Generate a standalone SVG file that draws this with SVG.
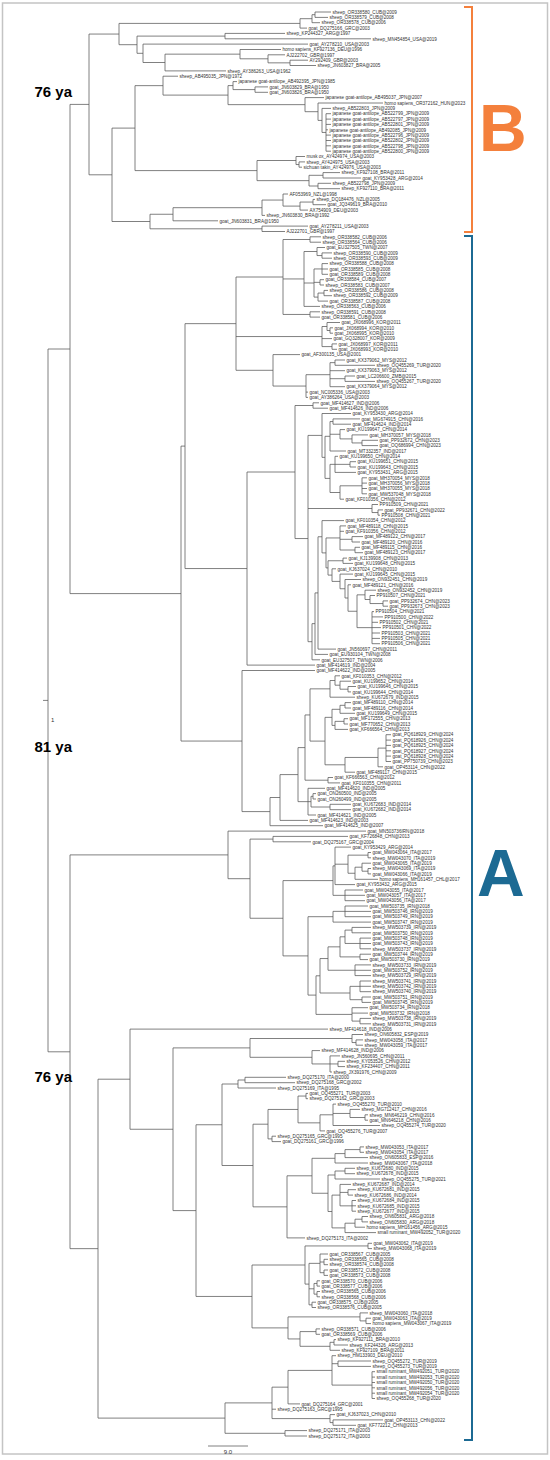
<svg xmlns="http://www.w3.org/2000/svg" width="550" height="1460" viewBox="0 0 550 1460">
<style>
.c{fill:none;stroke:#555;stroke-width:0.75}
.t text{font-family:"Liberation Sans",Arial,sans-serif;font-size:4.6px;fill:#333}
.yr{font-family:"Liberation Sans",Arial,sans-serif;font-size:15px;font-weight:bold;fill:#000;text-anchor:end}
.pp{font-family:"Liberation Sans",Arial,sans-serif;font-size:6px;fill:#333}
.big{font-family:"Liberation Sans",Arial,sans-serif;font-size:66px;font-weight:bold}
</style>
<rect x="0" y="0" width="550" height="1460" fill="#fff"/>
<rect x="2.5" y="3" width="545" height="1451" fill="none" stroke="#c4c4c4" stroke-width="1.5"/>
<g id="connectors" class="c">
<path d="M315 12V17.4M315 12H331M315 17.4H328M312 14.7V22.7M312 14.7H315M312 22.7H320M300 18.7V28.1M300 18.7H312M300 28.1H307M225 33.4V38.8M225 33.4H285M225 38.8H371M290 60.2V65.5M290 60.2H308M290 65.5H316M268 54.8V62.85M268 54.8H285M268 62.85H290M240 49.5V58.8M240 49.5H281M240 58.8H268M165 54.15V70.9M165 54.15H240M165 70.9H226M143 44.1V62.5M143 44.1H308M143 62.5H165M137 36.1V53.3M137 36.1H225M137 53.3H143M119 23.4V44.7M119 23.4H300M119 44.7H137"/>
<path d="M255 86.9V92.3M255 86.9H268M255 92.3H268M233 81.6V89.6M233 81.6H237M233 89.6H255M326 113.7V151.2M326 113.7H331M326 119.1H331M326 124.4H331M326 129.8H328M326 135.1H331M326 140.5H331M326 145.8H331M326 151.2H331M322 108.4V132.45M322 108.4H331M322 132.45H326M318 103V120.4M318 103H383M318 120.4H322M305 97.6V111.7M305 97.6H324M305 111.7H318M228 85.6V104.65M228 85.6H233M228 104.65H305M163 76.2V95.1M163 76.2H178M163 95.1H228M299 161.9V167.2M299 161.9H305M299 167.2H302M296 156.5V164.55M296 156.5H305M296 164.55H299M323 172.6V178M323 172.6H340M323 178H361M318 183.3V188.7M318 183.3H331M318 188.7H340M309 175.3V186M309 175.3H323M309 186H318M257 160.5V180.65M257 160.5H296M257 180.65H309M135 85.65V170.6M135 85.65H163M135 170.6H257"/>
<path d="M313 199.4V204.7M313 199.4H315M313 204.7H326M300 202.05V210.1M300 202.05H313M300 210.1H308M283 194V206.1M283 194H288M283 206.1H300M262 200.05V215.4M262 200.05H283M262 215.4H265M173 207.7V220.8M173 207.7H262M173 220.8H218M262 226.1V231.5M262 226.1H308M262 231.5H285M150 214.25V228.8M150 214.25H173M150 228.8H262M112 128.1V221.5M112 128.1H135M112 221.5H150M89 34.05V174.8M89 34.05H119M89 174.8H112"/>
<path d="M310 236.8V242.2M310 236.8H321M310 242.2H321M322 252.9V258.2M322 252.9H332M322 258.2H332M317 247.5V255.55M317 247.5H325M317 255.55H322M322 263.6V274.3M322 263.6H328M322 269H328M322 274.3H328M320 279.7V285M320 279.7H324M320 285H324M324 290.4V295.7M324 290.4H328M324 295.7H332M318 293.05V301.1M318 293.05H324M318 301.1H328M314 268.95V297.1M314 268.95H322M314 282.35H320M314 297.1H318M304 251.5V306.4M304 251.5H317M304 283H314M304 306.4H320M310 311.8V317.1M310 311.8H320M310 317.1H320M283 239.5V314.45M283 239.5H310M283 278.95H304M283 314.45H310M330 327.8V333.2M330 327.8H333M330 333.2H333M327 322.5V330.5M327 322.5H340M327 330.5H330M332 343.9V349.3M332 343.9H337M332 349.3H337M322 326.5V346.6M322 326.5H327M322 338.6H332M322 346.6H332M335 360V365.3M335 360H345M335 365.3H375M345 376V381.4M345 376H355M345 381.4H375M330 362.65V386.7M330 362.65H335M330 370.7H345M330 378.7H345M330 386.7H345M306 374.7V397.4M306 374.7H330M306 392.1H308M306 397.4H308M273 354.6V386.05M273 354.6H300M273 386.05H306M236 277V370.3M236 277H283M236 336.55H322M236 370.3H273"/>
<path d="M313 402.8V408.2M313 402.8H319M313 408.2H328M333 418.9V424.2M333 418.9H360M333 424.2H351M362 440.3V445.6M362 440.3H378M362 445.6H378M352 434.9V442.95M352 434.9H368M352 442.95H362M340 429.6V438.9M340 429.6H345M340 438.9H352M330 421.55V451M330 421.55H333M330 434.25H340M330 451H346M350 461.7V467M350 461.7H356M350 467H356M335 456.3V472.4M335 456.3H338M335 464.35H350M335 472.4H356M362 477.8V493.8M362 477.8H367M362 483.1H367M362 488.5H367M362 493.8H367M340 485.8V499.2M340 485.8H362M340 499.2H344M330 464.35V492.5M330 464.35H335M330 492.5H340M325 436.3V478.4M325 436.3H330M325 478.4H330M322 413.5V457.35M322 413.5H351M322 457.35H325M378 509.9V515.2M378 509.9H383M378 515.2H380M372 504.5V512.55M372 504.5H378M372 512.55H378"/>
<path d="M352 536.6V542M352 536.6H363M352 542H360M355 547.3V552.7M355 547.3H360M355 552.7H363M340 525.9V550M340 525.9H346M340 531.3H344M340 539.3H352M340 550H355M372 611.6V643.7M372 611.6H374M372 616.9H383M372 622.3H378M372 627.6H381M372 633H380M372 638.4H380M372 643.7H380M383 600.9V606.2M383 600.9H388M383 606.2H388M370 595.5V603.55M370 595.5H375M370 603.55H383M365 590.2V599.5M365 590.2H376M365 599.5H370M357 594.85V627.65M357 594.85H365M357 627.65H372M348 584.8V611.25M348 584.8H351M348 611.25H357M345 579.5V598M345 579.5H361M345 598H348M340 574.1V588.75M340 574.1H353M340 588.75H345M332 568.8V581.4M332 568.8H336M332 581.4H340M343 558.1V563.4M343 558.1H347M343 563.4H353M328 560.75V575.1M328 560.75H343M328 575.1H332M326 537.95V567.9M326 537.95H340M326 567.9H328M322 520.6V552.9M322 520.6H344M322 552.9H326M318 536.75V649.1M318 536.75H322M318 649.1H336M315 592.9V654.4M315 592.9H318M315 654.4H328M312 623.65V659.8M312 623.65H315M312 659.8H320M308 435.4V641.7M308 435.4H322M308 508.5H372M308 641.7H312M295 405.5V538.55M295 405.5H313M295 538.55H308M247 472V665.1M247 472H295M247 665.1H315M185 323.65V568.55M185 323.65H236M185 568.55H247"/>
<path d="M348 686.5V691.9M348 686.5H356M348 691.9H351M340 681.2V689.2M340 681.2H351M340 689.2H348M335 675.8V685.2M335 675.8H340M335 685.2H340M330 680.5V697.2M330 680.5H335M330 697.2H355M345 702.6V708M345 702.6H351M345 708H351M340 705.3V713.3M340 705.3H345M340 713.3H355M344 718.7V724M344 718.7H348M344 724H348M335 721.35V729.4M335 721.35H344M335 729.4H348M332 709.3V725.4M332 709.3H340M332 725.4H335M386 734.7V761.5M386 734.7H391M386 740.1H391M386 745.4H391M386 750.8H391M386 756.1H391M386 761.5H391M378 748.1V766.8M378 748.1H386M378 766.8H383M345 757.45V772.2M345 757.45H378M345 772.2H355M325 717.35V764.8M325 717.35H332M325 764.8H345M310 688.85V741.1M310 688.85H330M310 741.1H325M328 777.5V782.9M328 777.5H333M328 782.9H340M305 714.95V780.2M305 714.95H310M305 780.2H328M313 793.6V799M313 793.6H316M313 799H316M330 804.3V809.7M330 804.3H351M330 809.7H351M311 796.3V807M311 796.3H313M311 807H330M308 788.3V815M308 788.3H325M308 801.65H311M308 815H316M298 747.6V801.65M298 747.6H305M298 801.65H308M280 774.6V820.4M280 774.6H298M280 820.4H308M270 797.5V825.7M270 797.5H280M270 825.7H323M242 670.5V811.6M242 670.5H315M242 811.6H270M181 446.1V741.05M181 446.1H185M181 741.05H242"/>
<path d="M273 836.4V841.8M273 836.4H348M273 841.8H311M368 852.5V857.8M368 852.5H371M368 857.8H371M368 868.5V873.9M368 868.5H371M368 873.9H371M362 863.2V871.2M362 863.2H371M362 871.2H368M355 867.2V879.3M355 867.2H362M355 879.3H378M348 855.15V873.25M348 855.15H368M348 873.25H355M335 847.1V884.6M335 847.1H351M335 864.2H348M335 884.6H355M345 890V900.7M345 890H363M345 895.3H365M345 900.7H365M333 865.85V895.35M333 865.85H335M333 895.35H345M345 906V916.7M345 906H368M345 911.4H371M345 916.7H371M333 911.35V922.1M333 911.35H345M333 922.1H371M352 927.4V932.8M352 927.4H371M352 932.8H371M360 938.1V948.8M360 938.1H371M360 943.5H371M360 948.8H371M345 930.1V943.45M345 930.1H352M345 943.45H360M360 954.2V959.6M360 954.2H371M360 959.6H368M340 936.8V956.9M340 936.8H345M340 956.9H360M355 964.9V975.6M355 964.9H371M355 970.3H371M355 975.6H371M328 946.85V970.25M328 946.85H340M328 970.25H355M360 981V991.7M360 981H371M360 986.3H371M360 991.7H371M362 997V1002.4M362 997H371M362 1002.4H371M350 986.35V999.7M350 986.35H360M350 999.7H362M320 958.55V993M320 958.55H328M320 993H350M360 1018.4V1023.8M360 1018.4H371M360 1023.8H371M352 1007.7V1021.1M352 1007.7H368M352 1013.1H368M352 1021.1H360M316 975.8V1014.4M316 975.8H320M316 1014.4H352M308 916.7V995.1M308 916.7H333M308 995.1H316M283 880.6V955.9M283 880.6H333M283 955.9H308M250 839.1V918.25M250 839.1H273M250 918.25H283M228 831.1V878.7M228 831.1H366M228 878.7H250"/>
<path d="M356 1039.9V1045.2M356 1039.9H363M356 1045.2H363M352 1034.5V1042.55M352 1034.5H363M352 1042.55H356M338 1061.3V1066.6M338 1061.3H345M338 1066.6H345M330 1055.9V1072M330 1055.9H340M330 1063.95H338M330 1072H332M312 1050.6V1063.95M312 1050.6H320M312 1063.95H330M250 1038.5V1057.3M250 1038.5H352M250 1057.3H312M245 1077.3V1082.7M245 1077.3H286M245 1082.7H295M238 1080V1088M238 1080H245M238 1088H276M306 1093.4V1098.7M306 1093.4H308M306 1098.7H308M365 1114.8V1120.2M365 1114.8H368M365 1120.2H368M350 1109.4V1117.5M350 1109.4H360M350 1117.5H365M333 1104.1V1125.5M333 1104.1H336M333 1113.45H350M333 1125.5H380M320 1114.8V1130.9M320 1114.8H333M320 1130.9H325M298 1096.05V1122.85M298 1096.05H306M298 1122.85H320M272 1136.2V1141.6M272 1136.2H276M272 1141.6H281M268 1109.45V1138.9M268 1109.45H298M268 1138.9H272"/>
<path d="M360 1146.9V1152.3M360 1146.9H364M360 1152.3H364M345 1149.6V1157.6M345 1149.6H360M345 1157.6H368M335 1153.6V1163M335 1153.6H345M335 1163H368M345 1168.3V1173.7M345 1168.3H355M345 1173.7H355M335 1171V1179M335 1171H345M335 1179H380M348 1189.7V1195.1M348 1189.7H356M348 1195.1H353M352 1200.5V1211.2M352 1200.5H356M352 1205.8H356M352 1211.2H356M340 1184.4V1205.85M340 1184.4H351M340 1192.4H348M340 1205.85H352M362 1216.5V1221.9M362 1216.5H368M362 1221.9H368M355 1219.2V1227.2M355 1219.2H362M355 1227.2H365M345 1223.2V1232.6M345 1223.2H355M345 1232.6H376M332 1195.1V1227.9M332 1195.1H340M332 1227.9H345M328 1175V1211.5M328 1175H335M328 1211.5H332M312 1158.3V1193.25M312 1158.3H335M312 1193.25H328M287 1175.8V1237.9M287 1175.8H312M287 1237.9H305M253 1124.2V1206.85M253 1124.2H268M253 1206.85H287M222 1084V1165.5M222 1084H238M222 1165.5H253"/>
<path d="M368 1243.3V1248.6M368 1243.3H372M368 1248.6H372M324 1259.3V1264.7M324 1259.3H328M324 1264.7H328M324 1270V1275.4M324 1270H328M324 1275.4H328M320 1254V1272.7M320 1254H328M320 1262H324M320 1272.7H324M317 1280.8V1286.1M317 1280.8H320M317 1286.1H320M317 1291.5V1296.8M317 1291.5H320M317 1296.8H320M314 1283.45V1294.15M314 1283.45H317M314 1294.15H317M312 1302.2V1307.5M312 1302.2H316M312 1307.5H316M309 1263.35V1304.85M309 1263.35H320M309 1288.8H314M309 1304.85H312M305 1245.95V1284.1M305 1245.95H368M305 1284.1H309M366 1318.2V1323.6M366 1318.2H371M366 1323.6H371M360 1312.9V1320.9M360 1312.9H368M360 1320.9H366M316 1328.9V1334.3M316 1328.9H320M316 1334.3H320M334 1339.6V1345M334 1339.6H336M334 1345H348M330 1342.3V1350.3M330 1342.3H334M330 1350.3H340M300 1331.6V1346.3M300 1331.6H316M300 1346.3H330M288 1316.9V1338.95M288 1316.9H360M288 1338.95H300M252 1265V1327.9M252 1265H305M252 1327.9H288M196 1124.75V1296.45M196 1124.75H222M196 1296.45H252M173 1047.9V1210.6M173 1047.9H250M173 1210.6H196"/>
<path d="M338 1361V1366.4M338 1361H371M338 1366.4H371M372 1371.7V1398.5M372 1371.7H375M372 1377.1H375M372 1382.5H375M372 1387.8H375M372 1393.2H375M372 1398.5H375M332 1355.7V1385.1M332 1355.7H336M332 1363.7H338M332 1385.1H372M288 1370.4V1403.9M288 1370.4H332M288 1403.9H300M333 1419.9V1425.3M333 1419.9H383M333 1425.3H356M330 1414.6V1422.6M330 1414.6H335M330 1422.6H333M272 1387.15V1418.6M272 1387.15H288M272 1409.2H276M272 1418.6H330M285 1430.6V1436M285 1430.6H307M285 1436H307M225 1402.9V1433.3M225 1402.9H272M225 1433.3H285"/>
<path d="M130 1029.1V1129.25M130 1029.1H328M130 1129.25H173M98 1079.2V1418.1M98 1079.2H130M98 1418.1H225M70 854.9V1248.65M70 854.9H228M70 1248.65H98M70 104.4V593.6M70 104.4H89M70 593.6H181M48 349V1051.8M48 349H70M48 1051.8H70M43 700.4H48"/>
</g>
<g id="scale-bar">
<path class="c" d="M208 1446H248"/>
<text class="pp" x="228" y="1453.5" text-anchor="middle" font-size="5">9.0</text>
</g>
<g id="annotations">
<text class="yr" x="72" y="97">76 ya</text>
<text class="yr" x="72" y="752">81 ya</text>
<text class="yr" x="72" y="1082">76 ya</text>
<text class="pp" x="51" y="722">1</text>
</g>
<g id="clade-B">
<path d="M464 7H472V232H464" fill="none" stroke="#F4803C" stroke-width="2"/>
<text class="big" x="479" y="151" fill="#F4803C">B</text>
</g>
<g id="clade-A">
<path d="M464 236H472V1440H464" fill="none" stroke="#1C6A93" stroke-width="2"/>
<text class="big" x="477" y="896" fill="#1C6A93">A</text>
</g>
<g id="leaves" class="t">
<g id="leaf-0"><text x="332.5" y="13.7">sheep_OR338580_CUB@2009</text></g>
<g id="leaf-1"><text x="329.5" y="19.1">sheep_OR338579_CUB@2008</text></g>
<g id="leaf-2"><text x="321.5" y="24.4">sheep_OR338578_CUB@2006</text></g>
<g id="leaf-3"><text x="308.5" y="29.8">goat_DQ275166_GRC@2003</text></g>
<g id="leaf-4"><text x="286.5" y="35.1">sheep_KP244327_ARG@1997</text></g>
<g id="leaf-5"><text x="372.5" y="40.5">sheep_MN454854_USA@2019</text></g>
<g id="leaf-6"><text x="309.5" y="45.8">goat_AY278210_USA@2003</text></g>
<g id="leaf-7"><text x="282.5" y="51.2">homo sapiens_KF927136_DEU@1996</text></g>
<g id="leaf-8"><text x="286.5" y="56.5">AJ222702_GBR@1997</text></g>
<g id="leaf-9"><text x="309.5" y="61.9">AY292409_GBR@2003</text></g>
<g id="leaf-10"><text x="317.5" y="67.2">sheep_JN603827_BRA@2005</text></g>
<g id="leaf-11"><text x="227.5" y="72.6">sheep_AY386263_USA@1962</text></g>
<g id="leaf-12"><text x="179.5" y="77.9">sheep_AB495035_JPN@1972</text></g>
<g id="leaf-13"><text x="238.5" y="83.3">japanese goat-antilope_AB492395_JPN@1985</text></g>
<g id="leaf-14"><text x="269.5" y="88.6">goat_JN603829_BRA@1950</text></g>
<g id="leaf-15"><text x="269.5" y="94">goat_JN603826_BRA@1950</text></g>
<g id="leaf-16"><text x="325.5" y="99.3">japanese goat-antilope_AB495037_JPN@2007</text></g>
<g id="leaf-17"><text x="384.5" y="104.7">homo sapiens_OR372162_HUN@2023</text></g>
<g id="leaf-18"><text x="332.5" y="110.1">sheep_AB522803_JPN@2009</text></g>
<g id="leaf-19"><text x="332.5" y="115.4">japanese goat-antilope_AB522799_JPN@2009</text></g>
<g id="leaf-20"><text x="332.5" y="120.8">japanese goat-antilope_AB522797_JPN@2009</text></g>
<g id="leaf-21"><text x="332.5" y="126.1">japanese goat-antilope_AB522801_JPN@2009</text></g>
<g id="leaf-22"><text x="329.5" y="131.5">japanese goat-antilope_AB492085_JPN@2009</text></g>
<g id="leaf-23"><text x="332.5" y="136.8">japanese goat-antilope_AB522796_JPN@2009</text></g>
<g id="leaf-24"><text x="332.5" y="142.2">japanese goat-antilope_AB522802_JPN@2009</text></g>
<g id="leaf-25"><text x="332.5" y="147.5">japanese goat-antilope_AB522798_JPN@2009</text></g>
<g id="leaf-26"><text x="332.5" y="152.9">japanese goat-antilope_AB522800_JPN@2009</text></g>
<g id="leaf-27"><text x="306.5" y="158.2">musk ox_AY424974_USA@2003</text></g>
<g id="leaf-28"><text x="306.5" y="163.6">sheep_AY424975_USA@2003</text></g>
<g id="leaf-29"><text x="303.5" y="168.9">sichuan takin_AY424976_USA@2003</text></g>
<g id="leaf-30"><text x="341.5" y="174.3">sheep_KF927108_BRA@2011</text></g>
<g id="leaf-31"><text x="362.5" y="179.7">goat_KY953428_ARG@2014</text></g>
<g id="leaf-32"><text x="332.5" y="185">sheep_AB522798_JPN@2009</text></g>
<g id="leaf-33"><text x="341.5" y="190.4">sheep_KF927110_BRA@2011</text></g>
<g id="leaf-34"><text x="289.5" y="195.7">AF053969_NZL@1998</text></g>
<g id="leaf-35"><text x="316.5" y="201.1">sheep_DQ184476_NZL@2005</text></g>
<g id="leaf-36"><text x="327.5" y="206.4">goat_JQ349619_BRA@2010</text></g>
<g id="leaf-37"><text x="309.5" y="211.8">AX754909_DEU@2003</text></g>
<g id="leaf-38"><text x="266.5" y="217.1">sheep_JN603830_BRA@1992</text></g>
<g id="leaf-39"><text x="219.5" y="222.5">goat_JN603831_BRA@1950</text></g>
<g id="leaf-40"><text x="309.5" y="227.8">goat_AY278211_USA@2003</text></g>
<g id="leaf-41"><text x="286.5" y="233.2">AJ222701_GBR@1997</text></g>
<g id="leaf-42"><text x="322.5" y="238.5">sheep_OR338582_CUB@2006</text></g>
<g id="leaf-43"><text x="322.5" y="243.9">sheep_OR338564_CUB@2006</text></g>
<g id="leaf-44"><text x="326.5" y="249.2">goat_EU327505_TWN@2007</text></g>
<g id="leaf-45"><text x="333.5" y="254.6">sheep_OR338590_CUB@2009</text></g>
<g id="leaf-46"><text x="333.5" y="259.9">sheep_OR338593_CUB@2009</text></g>
<g id="leaf-47"><text x="329.5" y="265.3">sheep_OR338588_CUB@2008</text></g>
<g id="leaf-48"><text x="329.5" y="270.7">goat_OR338585_CUB@2008</text></g>
<g id="leaf-49"><text x="329.5" y="276">goat_OR338589_CUB@2008</text></g>
<g id="leaf-50"><text x="325.5" y="281.4">goat_OR338584_CUB@2007</text></g>
<g id="leaf-51"><text x="325.5" y="286.7">sheep_OR338583_CUB@2007</text></g>
<g id="leaf-52"><text x="329.5" y="292.1">sheep_OR338586_CUB@2008</text></g>
<g id="leaf-53"><text x="333.5" y="297.4">sheep_OR338592_CUB@2009</text></g>
<g id="leaf-54"><text x="329.5" y="302.8">goat_OR338587_CUB@2008</text></g>
<g id="leaf-55"><text x="321.5" y="308.1">sheep_OR338563_CUB@2006</text></g>
<g id="leaf-56"><text x="321.5" y="313.5">sheep_OR338591_CUB@2008</text></g>
<g id="leaf-57"><text x="321.5" y="318.8">goat_OR338581_CUB@2006</text></g>
<g id="leaf-58"><text x="341.5" y="324.2">goat_JX068996_KOR@2011</text></g>
<g id="leaf-59"><text x="334.5" y="329.5">goat_JX068994_KOR@2010</text></g>
<g id="leaf-60"><text x="334.5" y="334.9">goat_JX068995_KOR@2010</text></g>
<g id="leaf-61"><text x="333.5" y="340.3">goat_GQ328007_KOR@2009</text></g>
<g id="leaf-62"><text x="338.5" y="345.6">goat_JX068997_KOR@2011</text></g>
<g id="leaf-63"><text x="338.5" y="351">goat_JX068993_KOR@2010</text></g>
<g id="leaf-64"><text x="301.5" y="356.3">goat_AF300135_USA@2001</text></g>
<g id="leaf-65"><text x="346.5" y="361.7">goat_KX379062_MYS@2012</text></g>
<g id="leaf-66"><text x="376.5" y="367">sheep_OQ455269_TUR@2020</text></g>
<g id="leaf-67"><text x="346.5" y="372.4">goat_KX379063_MYS@2012</text></g>
<g id="leaf-68"><text x="356.5" y="377.7">goat_LC206600_ZMB@2015</text></g>
<g id="leaf-69"><text x="376.5" y="383.1">sheep_OQ455267_TUR@2020</text></g>
<g id="leaf-70"><text x="346.5" y="388.4">goat_KX379064_MYS@2012</text></g>
<g id="leaf-71"><text x="309.5" y="393.8">goat_NC005336_USA@2003</text></g>
<g id="leaf-72"><text x="309.5" y="399.1">goat_AY386264_USA@2003</text></g>
<g id="leaf-73"><text x="320.5" y="404.5">goat_MF414627_IND@2006</text></g>
<g id="leaf-74"><text x="329.5" y="409.9">goat_MF414626_IND@2006</text></g>
<g id="leaf-75"><text x="352.5" y="415.2">goat_KY953430_ARG@2014</text></g>
<g id="leaf-76"><text x="361.5" y="420.6">goat_MG674915_CHN@2016</text></g>
<g id="leaf-77"><text x="352.5" y="425.9">goat_MF414624_IND@2014</text></g>
<g id="leaf-78"><text x="346.5" y="431.3">goat_KU199647_CHN@2014</text></g>
<g id="leaf-79"><text x="369.5" y="436.6">goat_MH370057_MYS@2018</text></g>
<g id="leaf-80"><text x="379.5" y="442">goat_PP932672_CHN@2023</text></g>
<g id="leaf-81"><text x="379.5" y="447.3">goat_OQ686994_CHN@2023</text></g>
<g id="leaf-82"><text x="347.5" y="452.7">goat_MT332357_IND@2017</text></g>
<g id="leaf-83"><text x="339.5" y="458">goat_KU199650_CHN@2014</text></g>
<g id="leaf-84"><text x="357.5" y="463.4">goat_KU199651_CHN@2015</text></g>
<g id="leaf-85"><text x="357.5" y="468.7">goat_KU199643_CHN@2015</text></g>
<g id="leaf-86"><text x="357.5" y="474.1">goat_KY953431_ARG@2015</text></g>
<g id="leaf-87"><text x="368.5" y="479.5">goat_MH370054_MYS@2018</text></g>
<g id="leaf-88"><text x="368.5" y="484.8">goat_MH370056_MYS@2018</text></g>
<g id="leaf-89"><text x="368.5" y="490.2">goat_MH370055_MYS@2018</text></g>
<g id="leaf-90"><text x="368.5" y="495.5">goat_MW537048_MYS@2018</text></g>
<g id="leaf-91"><text x="345.5" y="500.9">goat_KF010356_CHN@2012</text></g>
<g id="leaf-92"><text x="379.5" y="506.2">PP910509_CHN@2021</text></g>
<g id="leaf-93"><text x="384.5" y="511.6">goat_PP932671_CHN@2022</text></g>
<g id="leaf-94"><text x="381.5" y="516.9">PP910508_CHN@2021</text></g>
<g id="leaf-95"><text x="345.5" y="522.3">goat_KF010354_CHN@2012</text></g>
<g id="leaf-96"><text x="347.5" y="527.6">goat_MF489118_CHN@2015</text></g>
<g id="leaf-97"><text x="345.5" y="533">goat_KF910356_CHN@2012</text></g>
<g id="leaf-98"><text x="364.5" y="538.3">goat_MF489122_CHN@2017</text></g>
<g id="leaf-99"><text x="361.5" y="543.7">goat_MF489120_CHN@2016</text></g>
<g id="leaf-100"><text x="361.5" y="549">goat_MF489115_CHN@2016</text></g>
<g id="leaf-101"><text x="364.5" y="554.4">goat_MF489123_CHN@2017</text></g>
<g id="leaf-102"><text x="348.5" y="559.8">goat_KJ139908_CHN@2013</text></g>
<g id="leaf-103"><text x="354.5" y="565.1">goat_KU199648_CHN@2015</text></g>
<g id="leaf-104"><text x="337.5" y="570.5">goat_KJ637024_CHN@2010</text></g>
<g id="leaf-105"><text x="354.5" y="575.8">goat_KU199645_CHN@2015</text></g>
<g id="leaf-106"><text x="362.5" y="581.2">sheep_ON932451_CHN@2019</text></g>
<g id="leaf-107"><text x="352.5" y="586.5">goat_MF489121_CHN@2016</text></g>
<g id="leaf-108"><text x="377.5" y="591.9">sheep_ON932452_CHN@2019</text></g>
<g id="leaf-109"><text x="376.5" y="597.2">PP910507_CHN@2021</text></g>
<g id="leaf-110"><text x="389.5" y="602.6">goat_PP932674_CHN@2023</text></g>
<g id="leaf-111"><text x="389.5" y="607.9">goat_PP932673_CHN@2023</text></g>
<g id="leaf-112"><text x="375.5" y="613.3">PP910504_CHN@2021</text></g>
<g id="leaf-113"><text x="384.5" y="618.6">PP910500_CHN@2022</text></g>
<g id="leaf-114"><text x="379.5" y="624">PP910502_CHN@2021</text></g>
<g id="leaf-115"><text x="382.5" y="629.3">PP910501_CHN@2022</text></g>
<g id="leaf-116"><text x="381.5" y="634.7">PP910503_CHN@2021</text></g>
<g id="leaf-117"><text x="381.5" y="640.1">PP910505_CHN@2021</text></g>
<g id="leaf-118"><text x="381.5" y="645.4">PP910506_CHN@2021</text></g>
<g id="leaf-119"><text x="337.5" y="650.8">goat_JN560697_CHN@2011</text></g>
<g id="leaf-120"><text x="329.5" y="656.1">goat_EU930104_TWN@2008</text></g>
<g id="leaf-121"><text x="321.5" y="661.5">goat_EU327507_TWN@2006</text></g>
<g id="leaf-122"><text x="316.5" y="666.8">goat_MF414619_IND@2004</text></g>
<g id="leaf-123"><text x="316.5" y="672.2">goat_MF414622_IND@2005</text></g>
<g id="leaf-124"><text x="341.5" y="677.5">goat_KF010353_CHN@2012</text></g>
<g id="leaf-125"><text x="352.5" y="682.9">goat_KU199652_CHN@2014</text></g>
<g id="leaf-126"><text x="357.5" y="688.2">goat_KU199646_CHN@2015</text></g>
<g id="leaf-127"><text x="352.5" y="693.6">goat_KU199644_CHN@2014</text></g>
<g id="leaf-128"><text x="356.5" y="698.9">sheep_KU672679_IND@2015</text></g>
<g id="leaf-129"><text x="352.5" y="704.3">goat_MF489110_CHN@2014</text></g>
<g id="leaf-130"><text x="352.5" y="709.7">goat_MF489116_CHN@2014</text></g>
<g id="leaf-131"><text x="356.5" y="715">goat_KU199649_CHN@2015</text></g>
<g id="leaf-132"><text x="349.5" y="720.4">goat_MF172555_CHN@2013</text></g>
<g id="leaf-133"><text x="349.5" y="725.7">goat_MF770652_CHN@2013</text></g>
<g id="leaf-134"><text x="349.5" y="731.1">goat_KF666564_CHN@2013</text></g>
<g id="leaf-135"><text x="392.5" y="736.4">goat_PQ618929_CHN@2024</text></g>
<g id="leaf-136"><text x="392.5" y="741.8">goat_PQ618926_CHN@2024</text></g>
<g id="leaf-137"><text x="392.5" y="747.1">goat_PQ618925_CHN@2024</text></g>
<g id="leaf-138"><text x="392.5" y="752.5">goat_PQ618927_CHN@2024</text></g>
<g id="leaf-139"><text x="392.5" y="757.8">goat_PQ618928_CHN@2024</text></g>
<g id="leaf-140"><text x="392.5" y="763.2">goat_PP750739_CHN@2023</text></g>
<g id="leaf-141"><text x="384.5" y="768.5">goat_OP453114_CHN@2022</text></g>
<g id="leaf-142"><text x="356.5" y="773.9">goat_MF489117_CHN@2015</text></g>
<g id="leaf-143"><text x="334.5" y="779.2">goat_KF666563_CHN@2012</text></g>
<g id="leaf-144"><text x="341.5" y="784.6">goat_KF010355_CHN@2011</text></g>
<g id="leaf-145"><text x="326.5" y="790">goat_MF414620_IND@2005</text></g>
<g id="leaf-146"><text x="317.5" y="795.3">goat_ON260500_IND@2005</text></g>
<g id="leaf-147"><text x="317.5" y="800.7">goat_ON260499_IND@2005</text></g>
<g id="leaf-148"><text x="352.5" y="806">goat_KU672683_IND@2014</text></g>
<g id="leaf-149"><text x="352.5" y="811.4">goat_KU672682_IND@2014</text></g>
<g id="leaf-150"><text x="317.5" y="816.7">goat_MF414621_IND@2005</text></g>
<g id="leaf-151"><text x="309.5" y="822.1">goat_MF414623_IND@2003</text></g>
<g id="leaf-152"><text x="324.5" y="827.4">goat_MF414625_IND@2007</text></g>
<g id="leaf-153"><text x="367.5" y="832.8">goat_MN503736IRN@2018</text></g>
<g id="leaf-154"><text x="349.5" y="838.1">goat_KF726848_CHN@2013</text></g>
<g id="leaf-155"><text x="312.5" y="843.5">goat_DQ275167_GRC@2004</text></g>
<g id="leaf-156"><text x="352.5" y="848.8">goat_KY953429_ARG@2014</text></g>
<g id="leaf-157"><text x="372.5" y="854.2">goat_MW043064_ITA@2017</text></g>
<g id="leaf-158"><text x="372.5" y="859.5">sheep_MW043070_ITA@2019</text></g>
<g id="leaf-159"><text x="372.5" y="864.9">goat_MW043065_ITA@2019</text></g>
<g id="leaf-160"><text x="372.5" y="870.2">sheep_MW043069_ITA@2019</text></g>
<g id="leaf-161"><text x="372.5" y="875.6">goat_MW043066_ITA@2019</text></g>
<g id="leaf-162"><text x="379.5" y="881">homo sapiens_MH161457_CHL@2017</text></g>
<g id="leaf-163"><text x="356.5" y="886.3">goat_KY953432_ARG@2015</text></g>
<g id="leaf-164"><text x="364.5" y="891.7">goat_MW043055_ITA@2017</text></g>
<g id="leaf-165"><text x="366.5" y="897">goat_MW043057_ITA@2017</text></g>
<g id="leaf-166"><text x="366.5" y="902.4">goat_MW043056_ITA@2017</text></g>
<g id="leaf-167"><text x="369.5" y="907.7">goat_MW503735_IRN@2018</text></g>
<g id="leaf-168"><text x="372.5" y="913.1">goat_MW503746_IRN@2019</text></g>
<g id="leaf-169"><text x="372.5" y="918.4">goat_MW503749_IRN@2019</text></g>
<g id="leaf-170"><text x="372.5" y="923.8">goat_MW503747_IRN@2019</text></g>
<g id="leaf-171"><text x="372.5" y="929.1">sheep_MW503739_IRN@2019</text></g>
<g id="leaf-172"><text x="372.5" y="934.5">goat_MW503750_IRN@2019</text></g>
<g id="leaf-173"><text x="372.5" y="939.8">goat_MW503748_IRN@2019</text></g>
<g id="leaf-174"><text x="372.5" y="945.2">goat_MW503743_IRN@2019</text></g>
<g id="leaf-175"><text x="372.5" y="950.5">sheep_MW503737_IRN@2019</text></g>
<g id="leaf-176"><text x="372.5" y="955.9">goat_MW503744_IRN@2019</text></g>
<g id="leaf-177"><text x="369.5" y="961.3">goat_MW503730_IRN@2019</text></g>
<g id="leaf-178"><text x="372.5" y="966.6">sheep_MW503733_IRN@2019</text></g>
<g id="leaf-179"><text x="372.5" y="972">goat_MW503752_IRN@2019</text></g>
<g id="leaf-180"><text x="372.5" y="977.3">sheep_MW503729_IRN@2019</text></g>
<g id="leaf-181"><text x="372.5" y="982.7">sheep_MW503741_IRN@2019</text></g>
<g id="leaf-182"><text x="372.5" y="988">sheep_MW503742_IRN@2019</text></g>
<g id="leaf-183"><text x="372.5" y="993.4">sheep_MW503740_IRN@2019</text></g>
<g id="leaf-184"><text x="372.5" y="998.7">goat_MW503751_IRN@2019</text></g>
<g id="leaf-185"><text x="372.5" y="1004.1">goat_MW503745_IRN@2019</text></g>
<g id="leaf-186"><text x="369.5" y="1009.4">goat_MW503734_IRN@2018</text></g>
<g id="leaf-187"><text x="369.5" y="1014.8">goat_MW503732_IRN@2018</text></g>
<g id="leaf-188"><text x="372.5" y="1020.1">sheep_MW503738_IRN@2019</text></g>
<g id="leaf-189"><text x="372.5" y="1025.5">sheep_MW503731_IRN@2019</text></g>
<g id="leaf-190"><text x="329.5" y="1030.8">sheep_MF414618_IND@2006</text></g>
<g id="leaf-191"><text x="364.5" y="1036.2">sheep_ON605832_ESP@2019</text></g>
<g id="leaf-192"><text x="364.5" y="1041.6">sheep_MW043058_ITA@2017</text></g>
<g id="leaf-193"><text x="364.5" y="1046.9">sheep_MW043059_ITA@2017</text></g>
<g id="leaf-194"><text x="321.5" y="1052.3">sheep_MF414628_IND@2006</text></g>
<g id="leaf-195"><text x="341.5" y="1057.6">sheep_JN560695_CHN@2011</text></g>
<g id="leaf-196"><text x="346.5" y="1063">sheep_KY053526_CHN@2012</text></g>
<g id="leaf-197"><text x="346.5" y="1068.3">sheep_KF234407_CHN@2011</text></g>
<g id="leaf-198"><text x="333.5" y="1073.7">sheep_JX391976_CHN@2009</text></g>
<g id="leaf-199"><text x="287.5" y="1079">sheep_DQ275170_ITA@2000</text></g>
<g id="leaf-200"><text x="296.5" y="1084.4">sheep_DQ275168_GRC@2002</text></g>
<g id="leaf-201"><text x="277.5" y="1089.7">sheep_DQ275169_ITA@1995</text></g>
<g id="leaf-202"><text x="309.5" y="1095.1">goat_OQ455271_TUR@2003</text></g>
<g id="leaf-203"><text x="309.5" y="1100.4">sheep_DQ275162_GRC@2003</text></g>
<g id="leaf-204"><text x="337.5" y="1105.8">sheep_OQ455270_TUR@2010</text></g>
<g id="leaf-205"><text x="361.5" y="1111.1">sheep_MG712417_CHN@2016</text></g>
<g id="leaf-206"><text x="369.5" y="1116.5">sheep_MN646219_CHN@2016</text></g>
<g id="leaf-207"><text x="369.5" y="1121.9">goat_MN646218_CHN@2016</text></g>
<g id="leaf-208"><text x="381.5" y="1127.2">sheep_OQ455274_TUR@2020</text></g>
<g id="leaf-209"><text x="326.5" y="1132.6">goat_OQ455276_TUR@2007</text></g>
<g id="leaf-210"><text x="277.5" y="1137.9">sheep_DQ275165_GRC@1995</text></g>
<g id="leaf-211"><text x="282.5" y="1143.3">goat_DQ275161_GRC@1996</text></g>
<g id="leaf-212"><text x="365.5" y="1148.6">sheep_MW043053_ITA@2017</text></g>
<g id="leaf-213"><text x="365.5" y="1154">sheep_MW043054_ITA@2017</text></g>
<g id="leaf-214"><text x="369.5" y="1159.3">sheep_ON605833_ESP@2016</text></g>
<g id="leaf-215"><text x="369.5" y="1164.7">sheep_MW043067_ITA@2018</text></g>
<g id="leaf-216"><text x="356.5" y="1170">sheep_KU672680_IND@2015</text></g>
<g id="leaf-217"><text x="356.5" y="1175.4">sheep_KU672678_IND@2015</text></g>
<g id="leaf-218"><text x="381.5" y="1180.7">sheep_OQ455275_TUR@2021</text></g>
<g id="leaf-219"><text x="352.5" y="1186.1">sheep_KU672687_IND@2014</text></g>
<g id="leaf-220"><text x="357.5" y="1191.4">sheep_KU672681_IND@2015</text></g>
<g id="leaf-221"><text x="354.5" y="1196.8">sheep_KU672686_IND@2014</text></g>
<g id="leaf-222"><text x="357.5" y="1202.2">sheep_KU672684_IND@2015</text></g>
<g id="leaf-223"><text x="357.5" y="1207.5">sheep_KU672685_IND@2015</text></g>
<g id="leaf-224"><text x="357.5" y="1212.9">sheep_KU672677_IND@2015</text></g>
<g id="leaf-225"><text x="369.5" y="1218.2">sheep_ON605831_ARG@2018</text></g>
<g id="leaf-226"><text x="369.5" y="1223.6">sheep_ON605830_ARG@2018</text></g>
<g id="leaf-227"><text x="366.5" y="1228.9">homo sapiens_MH161456_ARG@2015</text></g>
<g id="leaf-228"><text x="377.5" y="1234.3">small ruminant_MW492052_TUR@2020</text></g>
<g id="leaf-229"><text x="306.5" y="1239.6">sheep_DQ275173_ITA@2002</text></g>
<g id="leaf-230"><text x="373.5" y="1245">goat_MW043062_ITA@2019</text></g>
<g id="leaf-231"><text x="373.5" y="1250.3">sheep_MW043068_ITA@2019</text></g>
<g id="leaf-232"><text x="329.5" y="1255.7">goat_OR338567_CUB@2005</text></g>
<g id="leaf-233"><text x="329.5" y="1261">sheep_OR338565_CUB@2008</text></g>
<g id="leaf-234"><text x="329.5" y="1266.4">sheep_OR338574_CUB@2008</text></g>
<g id="leaf-235"><text x="329.5" y="1271.7">goat_OR338572_CUB@2008</text></g>
<g id="leaf-236"><text x="329.5" y="1277.1">goat_OR338573_CUB@2008</text></g>
<g id="leaf-237"><text x="321.5" y="1282.5">goat_OR338570_CUB@2006</text></g>
<g id="leaf-238"><text x="321.5" y="1287.8">goat_OR338577_CUB@2006</text></g>
<g id="leaf-239"><text x="321.5" y="1293.2">sheep_OR338565_CUB@2006</text></g>
<g id="leaf-240"><text x="321.5" y="1298.5">sheep_OR338568_CUB@2006</text></g>
<g id="leaf-241"><text x="317.5" y="1303.9">goat_OR338575_CUB@2005</text></g>
<g id="leaf-242"><text x="317.5" y="1309.2">sheep_OR338576_CUB@2005</text></g>
<g id="leaf-243"><text x="369.5" y="1314.6">sheep_MW043060_ITA@2018</text></g>
<g id="leaf-244"><text x="372.5" y="1319.9">goat_MW043063_ITA@2019</text></g>
<g id="leaf-245"><text x="372.5" y="1325.3">homo sapiens_MW043067_ITA@2019</text></g>
<g id="leaf-246"><text x="321.5" y="1330.6">sheep_OR338571_CUB@2006</text></g>
<g id="leaf-247"><text x="321.5" y="1336">goat_OR338569_CUB@2006</text></g>
<g id="leaf-248"><text x="337.5" y="1341.3">sheep_KF927111_BRA@2010</text></g>
<g id="leaf-249"><text x="349.5" y="1346.7">sheep_KF244326_ARG@2013</text></g>
<g id="leaf-250"><text x="341.5" y="1352">sheep_KF927109_BRA@2011</text></g>
<g id="leaf-251"><text x="337.5" y="1357.4">sheep_HM133903_DEU@2010</text></g>
<g id="leaf-252"><text x="372.5" y="1362.7">sheep_OQ455272_TUR@2019</text></g>
<g id="leaf-253"><text x="372.5" y="1368.1">sheep_OQ455273_TUR@2019</text></g>
<g id="leaf-254"><text x="376.5" y="1373.4">small ruminant_MW492051_TUR@2020</text></g>
<g id="leaf-255"><text x="376.5" y="1378.8">small ruminant_MW492053_TUR@2020</text></g>
<g id="leaf-256"><text x="376.5" y="1384.2">small ruminant_MW492050_TUR@2020</text></g>
<g id="leaf-257"><text x="376.5" y="1389.5">small ruminant_MW492056_TUR@2020</text></g>
<g id="leaf-258"><text x="376.5" y="1394.9">small ruminant_MW492054_TUR@2020</text></g>
<g id="leaf-259"><text x="376.5" y="1400.2">sheep_OQ455268_TUR@2020</text></g>
<g id="leaf-260"><text x="301.5" y="1405.6">goat_DQ275164_GRC@2001</text></g>
<g id="leaf-261"><text x="277.5" y="1410.9">sheep_DQ275163_GRC@1995</text></g>
<g id="leaf-262"><text x="336.5" y="1416.3">goat_KJ637023_CHN@2010</text></g>
<g id="leaf-263"><text x="384.5" y="1421.6">goat_OP453113_CHN@2022</text></g>
<g id="leaf-264"><text x="357.5" y="1427">goat_KF772212_CHN@2013</text></g>
<g id="leaf-265"><text x="308.5" y="1432.3">sheep_DQ275171_ITA@2003</text></g>
<g id="leaf-266"><text x="308.5" y="1437.7">sheep_DQ275172_ITA@2003</text></g>
</g>
</svg>
